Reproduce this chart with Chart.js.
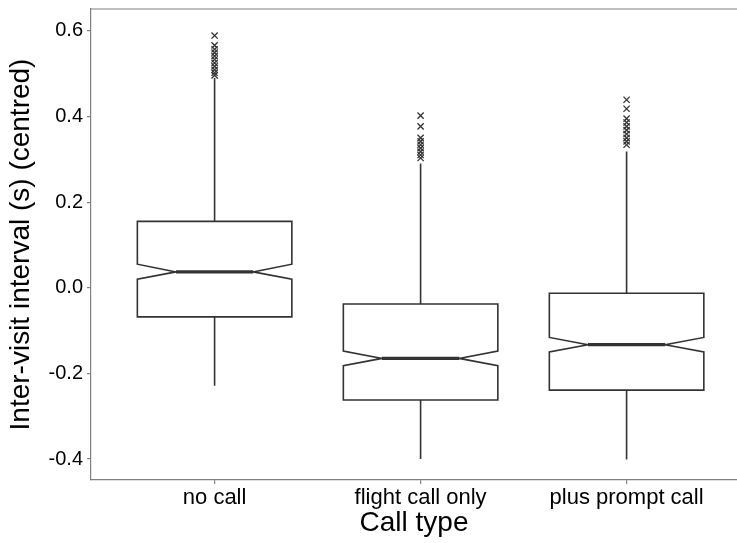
<!DOCTYPE html>
<html>
<head>
<meta charset="utf-8">
<script src="https://cdn.jsdelivr.net/npm/chart.js@4/dist/chart.umd.min.js"></script>
<style>
  html, body { margin: 0; padding: 0; background: #ffffff; overflow: hidden; }
  #wrap { width: 737px; height: 543px; }
</style>
</head>
<body>
<div id="wrap"><canvas id="chart" width="737" height="543"></canvas></div>
<script>
// Call types on the x axis
const categories = ['no call', 'flight call only', 'plus prompt call'];

// Box statistics per call type (inter-visit interval, centred, seconds)
const lowerWhisker = [-0.229, -0.400, -0.401];
const q1           = [-0.068, -0.262, -0.239];
const notchLow     = [0.020, -0.182, -0.150];
const median       = [0.037, -0.165, -0.133];
const notchHigh    = [0.055, -0.148, -0.116];
const q3           = [0.155, -0.038, -0.013];
const upperWhisker = [0.490, 0.290, 0.318];

// Points beyond the whiskers
const outliersNoCall = [0.589, 0.566, 0.557, 0.549, 0.541, 0.533, 0.525, 0.517, 0.509, 0.502, 0.496];
const outliersFlight = [0.402, 0.377, 0.350, 0.342, 0.334, 0.326, 0.318, 0.310, 0.303];
const outliersPrompt = [0.439, 0.418, 0.395, 0.386, 0.377, 0.368, 0.359, 0.350, 0.342, 0.334];

// Y axis tick values
const yTicks = [-0.4, -0.2, 0.0, 0.2, 0.4, 0.6];

const FONT = '"Liberation Sans", Arial, Helvetica, sans-serif';
const INK = '#333333';
const FRAME = '#808080';

const outlierPoints = [outliersNoCall, outliersFlight, outliersPrompt]
  .flatMap((vals, i) => vals.map(v => ({ x: i, y: v })));

// Notched boxes and whiskers, positioned through the chart scales
const notchedBoxes = {
  id: 'notchedBoxes',
  beforeDatasetsDraw(chart) {
    const { ctx, scales: { x, y } } = chart;
    const halfBox = 0.375;
    const halfNotch = halfBox / 2;
    ctx.save();
    ctx.strokeStyle = INK;
    ctx.lineJoin = 'miter';
    categories.forEach((_, i) => {
      const cx = x.getPixelForValue(i);
      const xl = x.getPixelForValue(i - halfBox);
      const xr = x.getPixelForValue(i + halfBox);
      const nl = x.getPixelForValue(i - halfNotch);
      const nr = x.getPixelForValue(i + halfNotch);
      const yQ1 = y.getPixelForValue(q1[i]);
      const yQ3 = y.getPixelForValue(q3[i]);
      const yMed = y.getPixelForValue(median[i]);
      const yNL = y.getPixelForValue(notchLow[i]);
      const yNH = y.getPixelForValue(notchHigh[i]);
      const yWL = y.getPixelForValue(lowerWhisker[i]);
      const yWH = y.getPixelForValue(upperWhisker[i]);

      // whiskers
      ctx.lineWidth = 1.6;
      ctx.beginPath();
      ctx.moveTo(cx, yQ3); ctx.lineTo(cx, yWH);
      ctx.moveTo(cx, yQ1); ctx.lineTo(cx, yWL);
      ctx.stroke();

      // notched box outline
      ctx.beginPath();
      ctx.moveTo(xl, yQ3);
      ctx.lineTo(xr, yQ3);
      ctx.lineTo(xr, yNH);
      ctx.lineTo(nr, yMed);
      ctx.lineTo(xr, yNL);
      ctx.lineTo(xr, yQ1);
      ctx.lineTo(xl, yQ1);
      ctx.lineTo(xl, yNL);
      ctx.lineTo(nl, yMed);
      ctx.lineTo(xl, yNH);
      ctx.closePath();
      ctx.fillStyle = '#ffffff';
      ctx.fill();
      ctx.stroke();

      // median
      ctx.lineWidth = 3.2;
      ctx.beginPath();
      ctx.moveTo(nl, yMed); ctx.lineTo(nr, yMed);
      ctx.stroke();
    });
    ctx.restore();
  }
};

// Top edge of the panel frame
const panelTop = {
  id: 'panelTop',
  beforeDraw(chart) {
    const { ctx, chartArea: a } = chart;
    ctx.save();
    ctx.strokeStyle = FRAME;
    ctx.lineWidth = 1.2;
    ctx.beginPath();
    ctx.moveTo(a.left, a.top);
    ctx.lineTo(a.right, a.top);
    ctx.stroke();
    ctx.restore();
  }
};

// Keep the panel flush with the layout padding (no label overflow padding)
const noScalePadding = s => {
  s.paddingTop = 0; s.paddingBottom = 0; s.paddingLeft = 0; s.paddingRight = 0;
};

new Chart(document.getElementById('chart'), {
  type: 'scatter',
  data: {
    datasets: [{
      data: outlierPoints,
      pointStyle: 'crossRot',
      pointRadius: 4.4,
      pointBorderWidth: 1.3,
      borderColor: INK,
      backgroundColor: INK
    }]
  },
  options: {
    responsive: false,
    devicePixelRatio: 1,
    animation: false,
    layout: { autoPadding: false, padding: { top: 9, right: 0, left: 0, bottom: 0 } },
    plugins: { legend: { display: false }, tooltip: { enabled: false } },
    scales: {
      x: {
        type: 'linear',
        min: -0.6,
        max: 2.536,
        afterBuildTicks: s => { s.ticks = categories.map((_, i) => ({ value: i })); },
        afterFit: s => { s.height = 63; noScalePadding(s); },
        ticks: {
          callback: v => categories[v],
          font: { family: FONT, size: 22 },
          color: '#000000',
          maxRotation: 0,
          autoSkip: false,
          padding: 1
        },
        grid: { drawOnChartArea: false, drawTicks: true, tickLength: 4, color: FRAME, lineWidth: 1.2 },
        border: { display: true, color: FRAME, width: 1.2 },
        title: {
          display: true,
          text: 'Call type',
          font: { family: FONT, size: 28 },
          color: '#000000',
          padding: { top: 0, bottom: 3 }
        }
      },
      y: {
        type: 'linear',
        min: -0.449,
        max: 0.651,
        afterBuildTicks: s => { s.ticks = yTicks.map(v => ({ value: v })); },
        afterFit: s => { s.width = 91; noScalePadding(s); },
        ticks: {
          callback: v => v.toFixed(1),
          font: { family: FONT, size: 20 },
          color: '#000000',
          padding: 4
        },
        grid: { drawOnChartArea: false, drawTicks: true, tickLength: 4, color: FRAME, lineWidth: 1.2 },
        border: { display: true, color: FRAME, width: 1.2 },
        title: {
          display: true,
          text: 'Inter-visit interval (s) (centred)',
          font: { family: FONT, size: 28 },
          color: '#000000',
          padding: { top: 4, bottom: 0 }
        }
      }
    }
  },
  plugins: [notchedBoxes, panelTop]
});
</script>
</body>
</html>
